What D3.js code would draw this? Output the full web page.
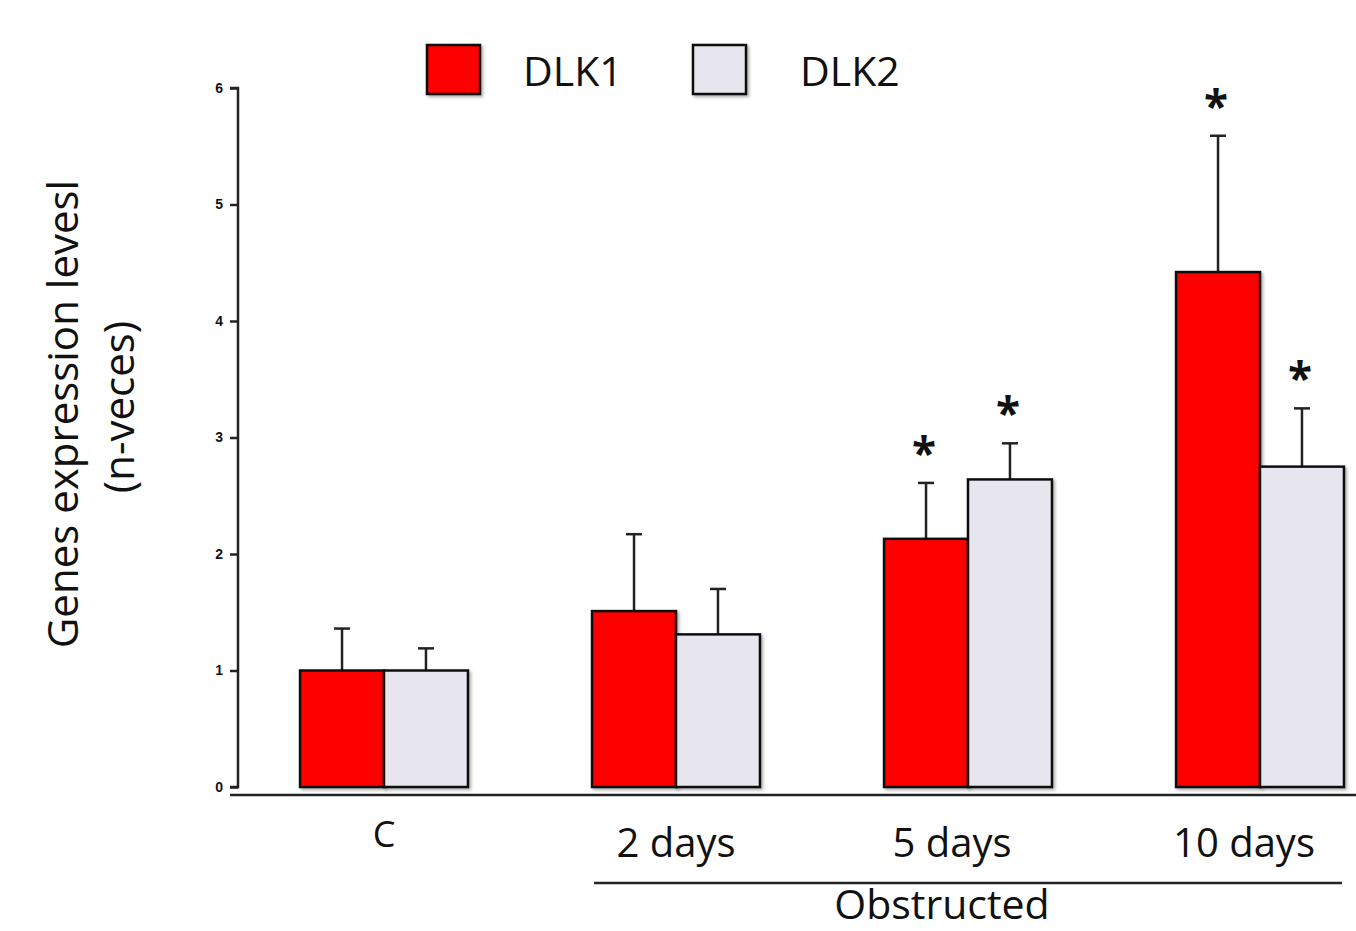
<!DOCTYPE html>
<html>
<head>
<meta charset="utf-8">
<script src="https://cdn.jsdelivr.net/npm/d3@7"></script>
<style>
  body { margin: 0; background: #fff; }
  svg { display: block; }
  text { font-family: "Open Sans", sans-serif; fill: #111; }
</style>
</head>
<body>
<svg id="chart"></svg>
<script>
// data
var categories = ["C", "2 days", "5 days", "10 days"];
var series = ["DLK1", "DLK2"];
var dlk1 = [1.0, 1.51, 2.13, 4.42];
var dlk1Err = [0.36, 0.66, 0.48, 1.17];
var dlk2 = [1.0, 1.31, 2.64, 2.75];
var dlk2Err = [0.19, 0.39, 0.31, 0.5];
var dlk1Sig = [false, false, true, true];
var dlk2Sig = [false, false, true, true];
var yTicks = [0, 1, 2, 3, 4, 5, 6];
var colors = { DLK1: "#ff0000", DLK2: "#e7e5ed" };
// label nudges (labels in the figure are not exactly centred on groups)
var labelShift = [0, 0, -16, -16];

var width = 1356;
var height = 931;

var svg = d3.select("#chart")
    .attr("width", width)
    .attr("height", height);

// 바 그림자
var defs = svg.append("defs");
defs.append("filter")
    .attr("id", "shadow")
    .attr("x", "-10%").attr("y", "-10%")
    .attr("width", "130%").attr("height", "130%")
  .append("feDropShadow")
    .attr("dx", 2).attr("dy", 2)
    .attr("stdDeviation", 1.5)
    .attr("flood-color", "#000")
    .attr("flood-opacity", 0.3);

var yScale = d3.scaleLinear()
    .domain([0, 6])
    .range([787, 88]);

var xScale = d3.scaleBand()
    .domain(categories)
    .range([238, 1406])
    .paddingInner(0.425)
    .paddingOuter(0.2125);

var xInner = d3.scaleBand()
    .domain(series)
    .range([0, xScale.bandwidth()]);

// rows for drawing
var rows = [];
categories.forEach(function(c, i) {
    rows.push({ cat: c, key: "DLK1", v: dlk1[i], e: dlk1Err[i], sig: dlk1Sig[i] });
    rows.push({ cat: c, key: "DLK2", v: dlk2[i], e: dlk2Err[i], sig: dlk2Sig[i] });
});

// y axis
var yAxis = d3.axisLeft(yScale)
    .tickValues(yTicks)
    .tickSize(8)
    .tickPadding(7)
    .tickFormat(d3.format("d"));

var gy = svg.append("g")
    .attr("transform", "translate(238,0)")
    .call(yAxis);
gy.select(".domain").attr("stroke", "#222").attr("stroke-width", 2.5)
    .attr("d", "M-8," + yScale(6) + "H0V" + yScale(0) + "H-8");
gy.selectAll(".tick line").attr("stroke", "#222").attr("stroke-width", 2.5);
gy.selectAll(".tick text")
    .style("font-family", "'Liberation Sans', Arial, sans-serif")
    .style("font-weight", "bold")
    .style("font-size", "14px")
    .attr("fill", "#222");

// x baseline
svg.append("line")
    .attr("x1", 230).attr("x2", width)
    .attr("y1", 795).attr("y2", 795)
    .attr("stroke", "#222")
    .attr("stroke-width", 2.5);

// error bars (upper only)
var err = svg.append("g").selectAll("g")
    .data(rows)
    .enter()
    .append("g")
    .attr("transform", d => "translate(" + (xScale(d.cat) + xInner(d.key) + xInner.bandwidth() / 2) + ",0)");

err.append("line")
    .attr("y1", d => yScale(d.v))
    .attr("y2", d => yScale(d.v + d.e))
    .attr("stroke", "#222")
    .attr("stroke-width", 2.5);

err.append("line")
    .attr("x1", -8).attr("x2", 8)
    .attr("y1", d => yScale(d.v + d.e))
    .attr("y2", d => yScale(d.v + d.e))
    .attr("stroke", "#222")
    .attr("stroke-width", 2.5);

// bars
svg.append("g").selectAll("rect")
    .data(rows)
    .enter()
    .append("rect")
    .attr("x", d => xScale(d.cat) + xInner(d.key))
    .attr("y", d => yScale(d.v))
    .attr("width", xInner.bandwidth())
    .attr("height", d => yScale(0) - yScale(d.v))
    .attr("fill", d => colors[d.key])
    .attr("stroke", "#111")
    .attr("stroke-width", 2.5)
    .attr("filter", "url(#shadow)");

// significance stars
svg.append("g").selectAll("text")
    .data(rows.filter(d => d.sig))
    .enter()
    .append("text")
    .attr("x", d => xScale(d.cat) + xInner(d.key) + xInner.bandwidth() / 2 - 2)
    .attr("y", d => yScale(d.v + d.e) - 14)
    .attr("text-anchor", "middle")
    .style("font-size", "44px")
    .style("font-weight", "bold")
    .text("*");

// category labels
svg.append("g").selectAll("text")
    .data(categories)
    .enter()
    .append("text")
    .attr("x", (d, i) => xScale(d) + xScale.bandwidth() / 2 + labelShift[i])
    .attr("y", d => d === "C" ? 847 : 857)
    .attr("text-anchor", "middle")
    .style("font-size", d => d === "C" ? "36px" : "40px")
    .text(d => d);

// obstructed bracket
svg.append("line")
    .attr("x1", xScale("2 days") + 2)
    .attr("x2", xScale("10 days") + xScale.bandwidth() - 2)
    .attr("y1", 883).attr("y2", 883)
    .attr("stroke", "#222")
    .attr("stroke-width", 2.5);

svg.append("text")
    .attr("x", 942)
    .attr("y", 919)
    .attr("text-anchor", "middle")
    .style("font-size", "41px")
    .text("Obstructed");

// y title
var yTitle = svg.append("text")
    .attr("transform", "translate(0,414) rotate(-90)")
    .attr("text-anchor", "middle")
    .style("font-size", "42px");
yTitle.append("tspan").attr("x", 0).attr("y", 78).text("Genes expression levesl");
yTitle.append("tspan").attr("x", 7).attr("y", 134).text("(n-veces)");

// legend
var legend = svg.append("g").selectAll("g")
    .data(series)
    .enter()
    .append("g")
    .attr("transform", (d, i) => "translate(" + (427 + i * 266) + ",45)");

legend.append("rect")
    .attr("width", 53)
    .attr("height", 49)
    .attr("fill", d => colors[d])
    .attr("stroke", "#111")
    .attr("stroke-width", 2.5)
    .attr("filter", "url(#shadow)");

legend.append("text")
    .attr("x", (d, i) => i === 0 ? 96 : 107)
    .attr("y", 41)
    .style("font-size", "41px")
    .text(d => d);
</script>
</body>
</html>
